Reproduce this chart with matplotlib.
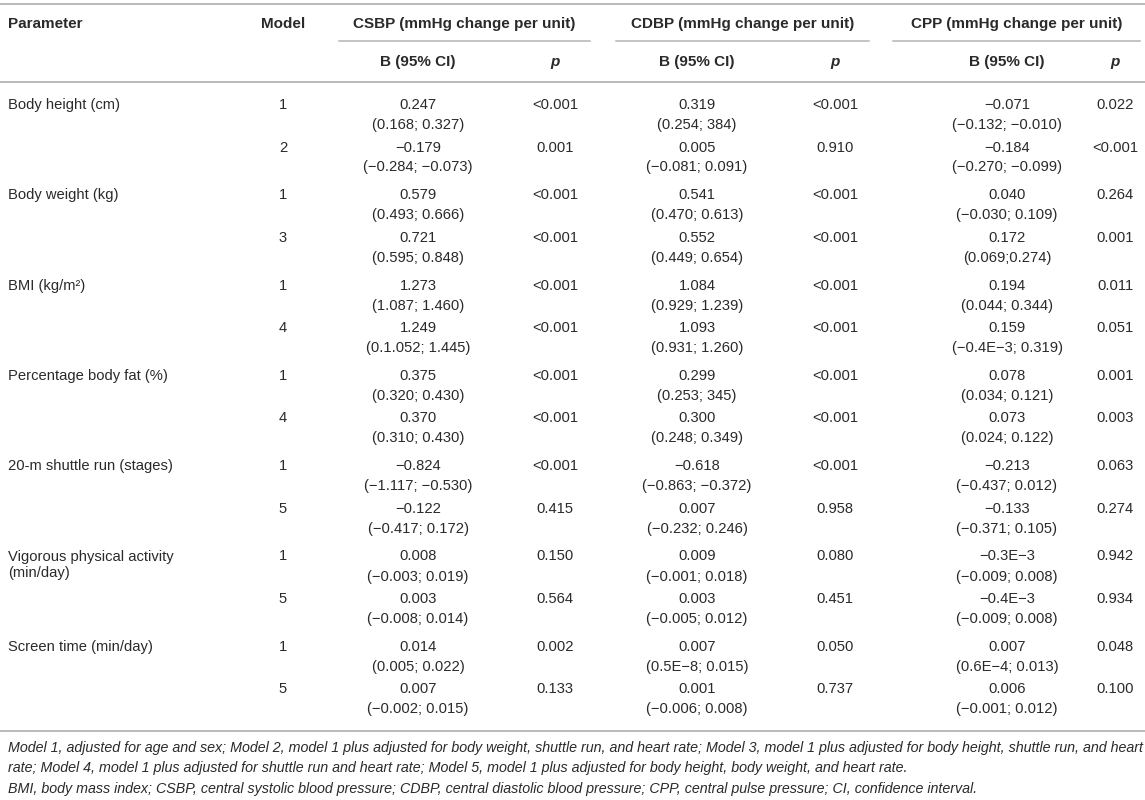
import matplotlib
matplotlib.use("Agg")
import matplotlib.pyplot as plt

# table content
parameters = ["Body height (cm)", "", "Body weight (kg)", "", "BMI (kg/m²)", "",
              "Percentage body fat (%)", "", "20-m shuttle run (stages)", "",
              "Vigorous physical activity\n(min/day)", "", "Screen time (min/day)", ""]
models = ["1", "2", "1", "3", "1", "4", "1", "4", "1", "5", "1", "5", "1", "5"]

csbp_b = ["0.247", "−0.179", "0.579", "0.721", "1.273", "1.249", "0.375", "0.370",
          "−0.824", "−0.122", "0.008", "0.003", "0.014", "0.007"]
csbp_ci = ["(0.168; 0.327)", "(−0.284; −0.073)", "(0.493; 0.666)", "(0.595; 0.848)",
           "(1.087; 1.460)", "(0.1.052; 1.445)", "(0.320; 0.430)", "(0.310; 0.430)",
           "(−1.117; −0.530)", "(−0.417; 0.172)", "(−0.003; 0.019)", "(−0.008; 0.014)",
           "(0.005; 0.022)", "(−0.002; 0.015)"]
csbp_p = ["<0.001", "0.001", "<0.001", "<0.001", "<0.001", "<0.001", "<0.001", "<0.001",
          "<0.001", "0.415", "0.150", "0.564", "0.002", "0.133"]

cdbp_b = ["0.319", "0.005", "0.541", "0.552", "1.084", "1.093", "0.299", "0.300",
          "−0.618", "0.007", "0.009", "0.003", "0.007", "0.001"]
cdbp_ci = ["(0.254; 384)", "(−0.081; 0.091)", "(0.470; 0.613)", "(0.449; 0.654)",
           "(0.929; 1.239)", "(0.931; 1.260)", "(0.253; 345)", "(0.248; 0.349)",
           "(−0.863; −0.372)", "(−0.232; 0.246)", "(−0.001; 0.018)", "(−0.005; 0.012)",
           "(0.5E−8; 0.015)", "(−0.006; 0.008)"]
cdbp_p = ["<0.001", "0.910", "<0.001", "<0.001", "<0.001", "<0.001", "<0.001", "<0.001",
          "<0.001", "0.958", "0.080", "0.451", "0.050", "0.737"]

cpp_b = ["−0.071", "−0.184", "0.040", "0.172", "0.194", "0.159", "0.078", "0.073",
         "−0.213", "−0.133", "−0.3E−3", "−0.4E−3", "0.007", "0.006"]
cpp_ci = ["(−0.132; −0.010)", "(−0.270; −0.099)", "(−0.030; 0.109)", "(0.069;0.274)",
          "(0.044; 0.344)", "(−0.4E−3; 0.319)", "(0.034; 0.121)", "(0.024; 0.122)",
          "(−0.437; 0.012)", "(−0.371; 0.105)", "(−0.009; 0.008)", "(−0.009; 0.008)",
          "(0.6E−4; 0.013)", "(−0.001; 0.012)"]
cpp_p = ["0.022", "<0.001", "0.264", "0.001", "0.011", "0.051", "0.001", "0.003",
         "0.063", "0.274", "0.942", "0.934", "0.048", "0.100"]

groups = ["CSBP (mmHg change per unit)", "CDBP (mmHg change per unit)",
          "CPP (mmHg change per unit)"]

footnote = ["Model 1, adjusted for age and sex; Model 2, model 1 plus adjusted for body weight, shuttle run, and heart rate; Model 3, model 1 plus adjusted for body height, shuttle run, and heart",
            "rate; Model 4, model 1 plus adjusted for shuttle run and heart rate; Model 5, model 1 plus adjusted for body height, body weight, and heart rate.",
            "BMI, body mass index; CSBP, central systolic blood pressure; CDBP, central diastolic blood pressure; CPP, central pulse pressure; CI, confidence interval."]

plt.rcParams['font.family'] = ['Liberation Sans', 'DejaVu Sans']
txt = '#2a2a2a'
rule = '#b4b4b4'
fs = 10.6       # body text
fs_head = 11.0  # bold headers
fs_note = 10.25  # footnote

fig = plt.figure(figsize=(11.45, 8), dpi=100)
ax = fig.add_axes([0, 0, 1, 1])
ax.set_xlim(0, 1145)
ax.set_ylim(800, 0)
ax.axis('off')

# layout (pixels)
x_param = 8
x_model = 283
x_b = [418, 697, 1007]
x_p = [555, 835, 1115]
spans = [(339, 590), (616, 869), (893, 1140)]

# header
ax.axhline(4, color=rule, lw=1.3)
ax.text(x_param, 24, "Parameter", fontsize=fs_head, fontweight='bold', color=txt, va='center')
ax.text(x_model, 24, "Model", fontsize=fs_head, fontweight='bold', color=txt, va='center', ha='center')
for g, (x0, x1), xb, xp in zip(groups, spans, x_b, x_p):
    ax.text((x0 + x1) / 2, 24, g, fontsize=fs_head, fontweight='bold', color=txt,
            va='center', ha='center')
    ax.plot([x0, x1], [41, 41], color=rule, lw=1.1)
    ax.text(xb, 62, "B (95% CI)", fontsize=fs_head, fontweight='bold', color=txt,
            va='center', ha='center')
    ax.text(xp, 62, "p", fontsize=fs_head, fontweight='bold', style='italic', color=txt,
            va='center', ha='center')
ax.axhline(82, color=rule, lw=1.3)

# body
cols = [(csbp_b, csbp_ci, csbp_p), (cdbp_b, cdbp_ci, cdbp_p), (cpp_b, cpp_ci, cpp_p)]
for i in range(len(models)):
    y = 105 + (i // 2) * 90.3 + (i % 2) * 42.5
    for k, part in enumerate(parameters[i].split("\n")):
        if part:
            ax.text(x_param, y + k * 16, part, fontsize=fs, color=txt, va='center')
    ax.text(x_model, y, models[i], fontsize=fs, color=txt, va='center', ha='center')
    for (bs, cis, ps), xb, xp in zip(cols, x_b, x_p):
        ax.text(xb, y, bs[i], fontsize=fs, color=txt, va='center', ha='center')
        ax.text(xb, y + 20, cis[i], fontsize=fs, color=txt, va='center', ha='center')
        ax.text(xp, y, ps[i], fontsize=fs, color=txt, va='center', ha='center')

ax.axhline(731, color=rule, lw=1.3)
for k, line in enumerate(footnote):
    ax.text(x_param, 748 + k * 20.3, line, fontsize=fs_note, style='italic', color=txt,
            va='center')

fig.savefig("out.png", dpi=100)
